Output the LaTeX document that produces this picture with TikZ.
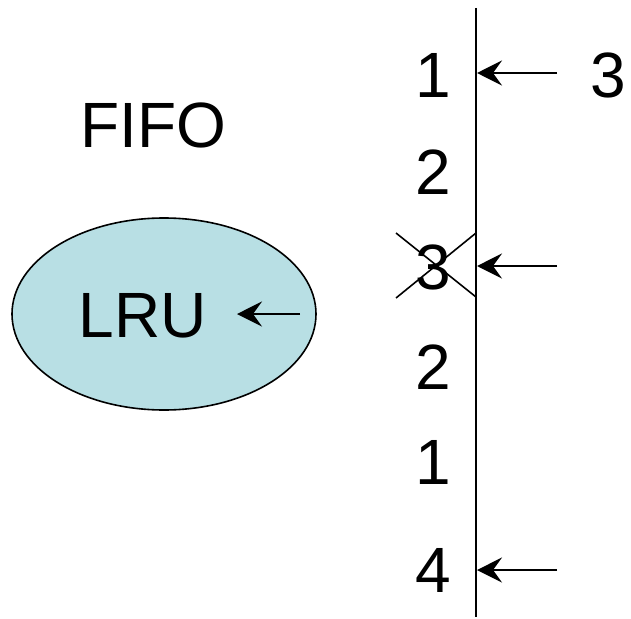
\documentclass[tikz,border=0pt]{standalone}
\usepackage{fontspec}
\setmainfont{Liberation Sans}
\usetikzlibrary{arrows.meta,shapes.geometric}
\begin{document}
\begin{tikzpicture}[x=1pt,y=-1pt,
  lbl/.style={font=\fontsize{64}{70}\selectfont, inner sep=0pt},
  arr/.style={line width=1.6pt, -{Stealth[length=25pt,width=25pt,inset=9pt]}},
  thin/.style={line width=1.6pt}]
\useasboundingbox (0,0) rectangle (631,618);
\node[ellipse, draw, thin, fill={rgb,255:red,184;green,223;blue,228}, minimum width=304pt, minimum height=192pt] (ell) at (164,314) {};
\node[lbl] (lru) at (143,316) {LRU};
\node[lbl] (fifo) at (153,125) {FIFO};
\coordinate (top) at (476,8);
\coordinate (bot) at (476,617);
\draw[thin] (top) -- (bot);
\node[lbl] (n1) at (433,75) {1};
\node[lbl] (n2) at (433,172) {2};
\node[lbl] (n3) at (433,267) {3};
\node[lbl] (n4) at (433,367) {2};
\node[lbl] (n5) at (433,462) {1};
\node[lbl] (n6) at (433,570) {4};
\node[lbl] (r3) at (608,75) {3};
\coordinate (a1s) at (557,73); \coordinate (a1e) at (477,73);
\coordinate (a2s) at (557,266); \coordinate (a2e) at (477,266);
\coordinate (a3s) at (557,570); \coordinate (a3e) at (477,570);
\coordinate (a4s) at (300,314); \coordinate (a4e) at (237,314);
\draw[arr] (a1s) -- (a1e);
\draw[arr] (a2s) -- (a2e);
\draw[arr] (a3s) -- (a3e);
\draw[arr] (a4s) -- (a4e);
\coordinate (c1) at (396,233); \coordinate (c2) at (476,297);
\coordinate (c3) at (396,298); \coordinate (c4) at (476,233);
\draw[thin] (c1) -- (c2);
\draw[thin] (c3) -- (c4);
\end{tikzpicture}
\end{document}
